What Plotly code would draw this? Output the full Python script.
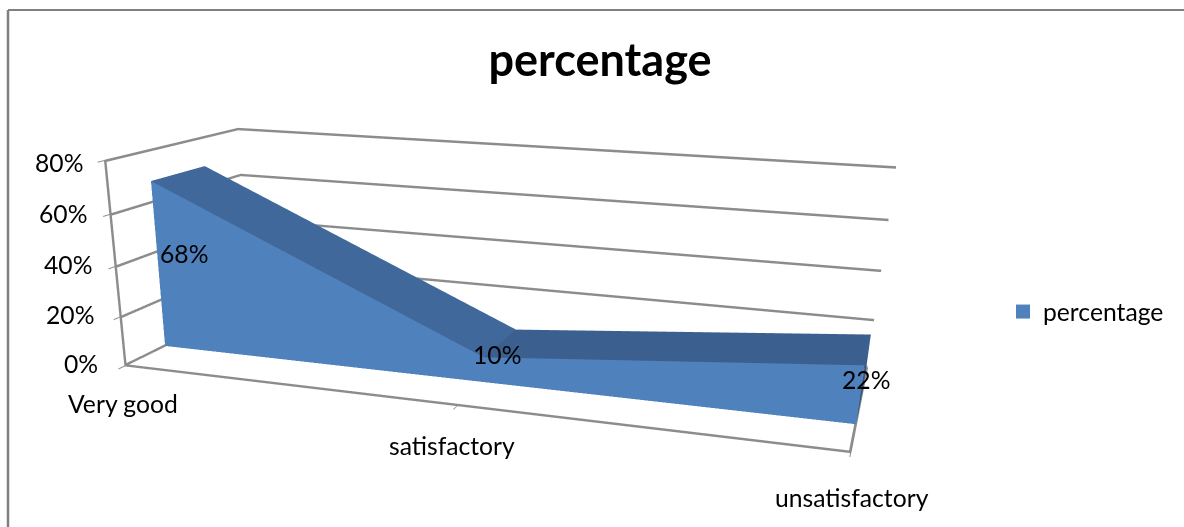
import plotly.graph_objects as go

categories = ["Very good", "satisfactory", "unsatisfactory"]
values = [68, 10, 22]
z_ticks = [0, 20, 40, 60, 80]
series_name = "percentage"

FH = 1077   # tall scene gives the long focal length of the original view; page is clipped to the window
CX = 470
GREY = "#8C8C8C"
F = "Lato"
FS = 24.7
font = dict(size=FS, color="black", family=F)

x = list(range(len(categories)))
x_max = x[-1]
y0, y1 = .29, .70

vx = x * 4
vy = [y0] * 6 + [y1] * 6
vz = [0] * 3 + values + [0] * 3 + values
tri = [(0, 1, 4), (0, 4, 3), (1, 2, 5), (1, 5, 4), (3, 4, 10), (3, 10, 9),
       (4, 5, 11), (4, 11, 10), (2, 5, 11), (2, 11, 8)]
cols = ["#4F81BD"] * 4 + ["#41689A"] * 2 + ["#3B6090"] * 2 + ["#2F527F"] * 2
mesh = go.Mesh3d(x=vx, y=vy, z=vz, i=[t[0] for t in tri], j=[t[1] for t in tri], k=[t[2] for t in tri],
                 facecolor=cols, flatshading=True,
                 lighting=dict(ambient=1, diffuse=0, specular=0, roughness=1, fresnel=0),
                 hoverinfo="skip", showlegend=False)

LINE = dict(color=GREY, width=3)

# WebGL draws 1px lines, so each wall and floor line is doubled one pixel apart
gx, gy, gz = [], [], []
for t in z_ticks:
    for off in (0, -.4 if t > 0 else .4):
        gx += [0, 0, x_max, None]
        gy += [0, 1, 1, None]
        gz += [t + off, t + off, t + off, None]
for off in (0, .003):
    gx += [off, off, None, 0, x_max, None, x_max - off, x_max - off, None]
    gy += [0, 0, None, 0, 0, None, 0, 1, None]
    gz += [z_ticks[-1], 0, None, off * 120, off * 120, None, 0, 0, None]
lines = go.Scatter3d(x=gx, y=gy, z=gz, mode="lines", line=LINE, hoverinfo="skip",
                     showlegend=False, connectgaps=False)
legend = go.Scatter(x=[None], y=[None], mode="markers", name=series_name,
                    marker=dict(symbol="square", size=14, color="#4F81BD"))
fig = go.Figure([mesh, lines, legend])

axis = dict(showbackground=False, showspikes=False, zeroline=False, showticklabels=False,
            title="", showgrid=False)
zs = [(-3, 2), (-2, 2), (1, 2), (1, 1), (2, -2)]
anns = [dict(x=0, y=0, z=t, text=f"{t}%", showarrow=False, xanchor="right", xshift=-22 + s[0], yshift=s[1], font=font)
        for t, s in zip(z_ticks, zs)]
cs = [(-2, -38), (-6, -40), (1, -45)]
anns += [dict(x=i, y=0, z=0, text=c, showarrow=False, xshift=s[0], yshift=s[1], font=font)
         for i, c, s in zip(x, categories, cs)]
ds = [(26, 12), (13, 15), (6, 16)]
anns += [dict(x=i, y=y0, z=v / 2, text=f"{v}%", showarrow=False, xshift=s[0], yshift=s[1], font=font)
         for i, v, s in zip(x, values, ds)]

fig.update_layout(
    width=1184, height=FH, margin=dict(l=0, r=0, t=0, b=0), paper_bgcolor="white", plot_bgcolor="white",
    xaxis=dict(visible=False), yaxis=dict(visible=False),
    title=dict(text=f"<b>{series_name}</b>", font=dict(size=45, family=F, color="black"),
               x=600 / 1184, xanchor="center", y=1 - 60 / FH, yanchor="middle"),
    legend=dict(x=1003 / 1184, y=1 - 312 / FH, xanchor="left", yanchor="middle",
                font=dict(size=FS, family=F, color="black"), bgcolor="rgba(0,0,0,0)"),
    scene=dict(
        domain=dict(x=[0, 2 * CX / 1184], y=[0, 1]),
        aspectmode="manual", aspectratio=dict(x=1, y=0.3757, z=0.283),
        camera=dict(eye=dict(x=0.5258, y=-1.727, z=0.4008),
                    center=dict(x=0.0108, y=-0.1607, z=-0.3428),
                    up=dict(x=-0.0388, y=0.0745, z=1),
                    projection=dict(type="perspective")),
        xaxis=dict(axis, range=[0, x_max], tickvals=x, ticks="outside", ticklen=8, tickcolor=GREY, tickwidth=2),
        yaxis=dict(axis, range=[0, 1], tickvals=[]),
        zaxis=dict(axis, range=[0, z_ticks[-1]], tickvals=z_ticks, ticks="outside", ticklen=8, tickcolor=GREY, tickwidth=2),
        annotations=anns),
    shapes=[dict(type="line", xref="paper", yref="paper", x0=8 / 1184, x1=8 / 1184, y0=0, y1=1 - 10 / FH,
                 line=dict(color="#808080", width=2.5)),
            dict(type="line", xref="paper", yref="paper", x0=8 / 1184, x1=1, y0=1 - 10 / FH, y1=1 - 10 / FH,
                 line=dict(color="#808080", width=2))])
fig.write_html("out.html", config=dict(displayModeBar=False),
               post_script="document.body.style.margin='0';document.documentElement.style.overflow='hidden';")
